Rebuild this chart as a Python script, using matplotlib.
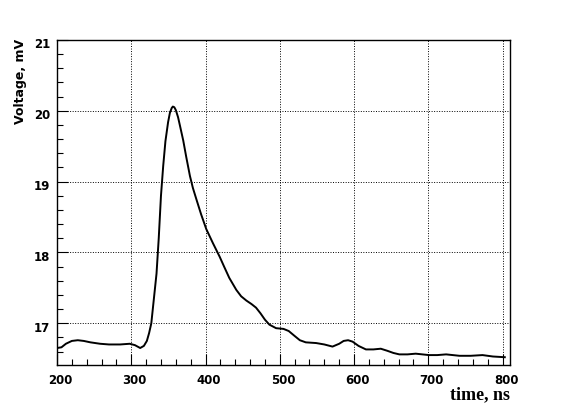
import matplotlib
matplotlib.use("Agg")
import matplotlib.pyplot as plt
import matplotlib.transforms as mtransforms
from matplotlib.ticker import MultipleLocator

# waveform (time in ns, voltage in mV)
time_ns = [200, 206, 212, 220, 228, 236, 245, 258, 270, 285, 298, 305, 312, 317,
           321, 324, 327, 330, 334, 337, 340, 343, 346, 349.6, 352, 354.5, 356, 358,
           360, 363, 366, 370, 374, 379, 383, 388, 394, 401, 410, 419, 425, 432,
           441.5, 448, 455, 462, 468, 474, 480, 486, 495, 505, 512, 520, 527, 535,
           549, 560, 571, 580, 586, 592, 598, 606, 616, 626, 636, 645, 653, 661,
           672, 683, 692, 701, 712, 724, 733, 742, 757, 773, 787, 803]
voltage_mv = [16.65, 16.66, 16.71, 16.75, 16.76, 16.75, 16.73, 16.71, 16.70, 16.70,
              16.71, 16.69, 16.65, 16.68, 16.75, 16.86, 17.00, 17.30, 17.70, 18.20,
              18.80, 19.22, 19.57, 19.84, 19.97, 20.04, 20.06, 20.05, 20.01, 19.91,
              19.77, 19.58, 19.35, 19.08, 18.91, 18.74, 18.54, 18.33, 18.13, 17.94,
              17.80, 17.64, 17.47, 17.38, 17.32, 17.27, 17.22, 17.14, 17.05, 16.98,
              16.93, 16.92, 16.89, 16.82, 16.76, 16.73, 16.72, 16.70, 16.67, 16.71,
              16.75, 16.76, 16.74, 16.68, 16.63, 16.63, 16.64, 16.61, 16.58, 16.56,
              16.56, 16.57, 16.56, 16.55, 16.55, 16.56, 16.55, 16.54, 16.54, 16.55,
              16.53, 16.52]

fig = plt.figure(figsize=(5.67, 4.07), dpi=100)
ax = fig.add_axes([57 / 567, 1 - 365 / 407, 453 / 567, 325 / 407])

ax.plot(time_ns, voltage_mv, color="black", linewidth=1.4)

ax.set_xlim(200, 810)
ax.set_ylim(16.41, 21)

ax.xaxis.set_major_locator(MultipleLocator(100))
ax.xaxis.set_minor_locator(MultipleLocator(20))
ax.yaxis.set_major_locator(MultipleLocator(1))
ax.yaxis.set_minor_locator(MultipleLocator(0.2))

ax.tick_params(which="both", direction="in", top=False, right=False, width=0.8)
ax.tick_params(which="major", length=8)
ax.tick_params(which="minor", length=4)
ax.tick_params(axis="x", pad=6.5)
ax.tick_params(axis="y", pad=5)

ax.grid(True, which="major", color="black", linestyle=(0, (1, 1.6)), linewidth=0.7)

for spine in ax.spines.values():
    spine.set_linewidth(1.0)

for lab in ax.get_xticklabels():
    lab.set_fontfamily("DejaVu Sans")
    lab.set_fontweight("bold")
    lab.set_fontsize(8.5)
    lab.set_transform(lab.get_transform() + mtransforms.ScaledTranslation(3.5 / 100, 0, fig.dpi_scale_trans))
for lab in ax.get_yticklabels():
    lab.set_fontfamily("DejaVu Sans")
    lab.set_fontweight("bold")
    lab.set_fontsize(8.5)
    lab.set_transform(lab.get_transform() + mtransforms.ScaledTranslation(0, -3.5 / 100, fig.dpi_scale_trans))

fig.text(21 / 567, 1 - 39 / 407, "Voltage, mV", rotation=90, ha="center", va="top",
         fontfamily="DejaVu Sans", fontweight="bold", fontsize=9)
fig.text(510 / 567, 1 - 386 / 407, "time, ns", ha="right", va="top",
         fontfamily="Liberation Serif", fontweight="bold", fontsize=13)

fig.savefig("out.png", dpi=100)
